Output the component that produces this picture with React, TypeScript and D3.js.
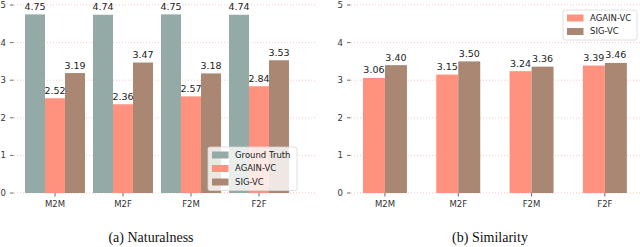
import React from "react";
import * as d3 from "d3";

const categories = ["M2M", "M2F", "F2M", "F2F"];
const natSeries = ["Ground Truth", "AGAIN-VC", "SIG-VC"];
const natGroundTruth = [4.75, 4.74, 4.75, 4.74];
const natAgain = [2.52, 2.36, 2.57, 2.84];
const natSig = [3.19, 3.47, 3.18, 3.53];
const simSeries = ["AGAIN-VC", "SIG-VC"];
const simAgain = [3.06, 3.15, 3.24, 3.39];
const simSig = [3.4, 3.5, 3.36, 3.46];
const yTicks = [0, 1, 2, 3, 4, 5];

const colors: { [k: string]: string } = {
  "Ground Truth": "#93aaa6",
  "AGAIN-VC": "#fe927e",
  "SIG-VC": "#aa8773",
};

const font = "DejaVu Sans, sans-serif";

interface PanelProps {
  series: string[];
  values: number[][];
  xRange: [number, number];
  groupWidth: number;
  axisX: number;
  gridRange: [number, number];
  legend: { x: number; y: number; w: number };
  caption: string;
  captionX: number;
}

const Panel: React.FC<PanelProps> = ({ series, values, xRange, groupWidth, axisX, gridRange, legend, caption, captionX }) => {
  const y = d3.scaleLinear().domain([0, 5]).range([193, 5]);
  const x = d3.scaleBand().domain(categories).range(xRange);
  const xs = d3.scaleBand().domain(series).range([0, groupWidth]);
  const off = (x.bandwidth() - groupWidth) / 2;
  const legH = series.length * 13.5 + 3;

  return (
    <g>
      {yTicks.map((t) => (
        <g key={t}>
          <line x1={gridRange[0]} x2={gridRange[1]} y1={y(t)} y2={y(t)} stroke="#f4b8b8" strokeWidth={0.8} strokeDasharray="1,2" />
          <line x1={axisX} x2={axisX + 3.5} y1={y(t)} y2={y(t)} stroke="#444" strokeWidth={0.8} />
          <text x={axisX - 4} y={y(t)} dy="0.35em" textAnchor="end" fontSize={8.5} fill="#333" fontFamily={font}>
            {t}
          </text>
        </g>
      ))}
      {categories.map((c, ci) => (
        <g key={c}>
          {series.map((s, si) => {
            const v = values[si][ci];
            const bx = (x(c) ?? 0) + off + (xs(s) ?? 0);
            return (
              <rect key={s} x={bx} y={y(v)} width={xs.bandwidth()} height={y(0) - y(v)} fill={colors[s]} />
            );
          })}
        </g>
      ))}
      {categories.map((c, ci) =>
        series.map((s, si) => {
          const v = values[si][ci];
          const bx = (x(c) ?? 0) + off + (xs(s) ?? 0) + xs.bandwidth() / 2;
          return (
            <text key={c + s} x={bx} y={y(v) - 4.5} textAnchor="middle" fontSize={9.5} fill="#222" fontFamily={font}>
              {v.toFixed(2)}
            </text>
          );
        })
      )}
      {categories.map((c) => {
        const cx = (x(c) ?? 0) + x.bandwidth() / 2;
        return (
          <g key={c}>
            <line x1={cx} x2={cx} y1={193} y2={196.5} stroke="#444" strokeWidth={0.8} />
            <text x={cx} y={207} textAnchor="middle" fontSize={8.5} fill="#333" fontFamily={font}>
              {c}
            </text>
          </g>
        );
      })}
      <rect x={legend.x} y={legend.y} width={legend.w} height={legH} rx={2} fill="#fff" fillOpacity={0.8} stroke="#d8d8d8" strokeWidth={0.8} />
      {series.map((s, i) => {
        const cy = legend.y + 8 + i * 13.5;
        return (
          <g key={s}>
            <rect x={legend.x + 4} y={cy - 3.5} width={16.5} height={7} fill={colors[s]} />
            <text x={legend.x + 27} y={cy} dy="0.35em" fontSize={8.5} fill="#222" fontFamily={font}>
              {s}
            </text>
          </g>
        );
      })}
      <text x={captionX} y={242} textAnchor="middle" fontSize={14} fill="#111" fontFamily="Liberation Serif, Times New Roman, serif">
        {caption}
      </text>
    </g>
  );
};

const App: React.FC = () => {
  return (
    <svg width={640} height={247} style={{ position: "absolute", left: 0, top: 0, background: "#fff" }}>
      <Panel
        series={natSeries}
        values={[natGroundTruth, natAgain, natSig]}
        xRange={[21, 293]}
        groupWidth={60}
        axisX={10}
        gridRange={[14, 316]}
        legend={{ x: 208, y: 147, w: 89 }}
        caption="(a) Naturalness"
        captionX={151}
      />
      <Panel
        series={simSeries}
        values={[simAgain, simSig]}
        xRange={[348.3, 641.5]}
        groupWidth={44}
        axisX={347}
        gridRange={[351, 640]}
        legend={{ x: 563, y: 10, w: 74 }}
        caption="(b) Similarity"
        captionX={490}
      />
    </svg>
  );
};

export default App;
